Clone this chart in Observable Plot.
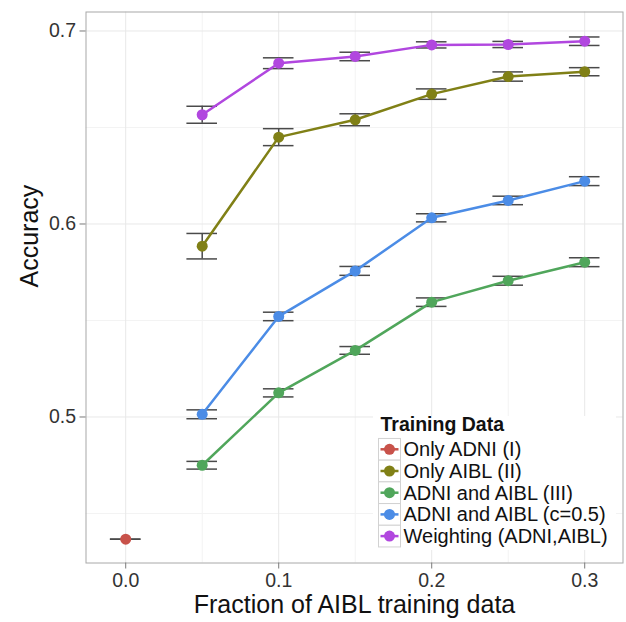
<!DOCTYPE html>
<html><head><meta charset="utf-8">
<script src="https://cdn.jsdelivr.net/npm/d3@7"></script>
<script src="https://cdn.jsdelivr.net/npm/@observablehq/plot@0.6"></script>
<style>
body{margin:0;background:#fff;font-family:"Liberation Sans",Arial,Helvetica,sans-serif;}
#wrap{position:relative;width:626px;height:622px;}
#wrap svg.legend{position:absolute;left:0;top:0;pointer-events:none;}
</style></head><body><div id="wrap"></div>
<script>
const seriesNames = ["Only ADNI (I)","Only AIBL (II)","ADNI and AIBL (III)","ADNI and AIBL (c=0.5)","Weighting (ADNI,AIBL)"];
const seriesColors = ["#c8524a","#808016","#50a65b","#4b8ce6","#b147df"];
const fractions = [0.05,0.1,0.15,0.2,0.25,0.3];
const onlyAdniX = [0.0];
const onlyAdniAcc = [0.4367];
const onlyAdniErr = [0];
const onlyAiblAcc = [0.5885,0.645,0.654,0.6673,0.6764,0.6789];
const onlyAiblErr = [0.0066,0.0044,0.0031,0.0027,0.0024,0.0021];
const combinedAcc = [0.475,0.5125,0.5345,0.5595,0.5706,0.5802];
const combinedErr = [0.002,0.0021,0.002,0.0022,0.0023,0.0023];
const c05Acc = [0.5014,0.5521,0.5757,0.6032,0.6122,0.6222];
const c05Err = [0.0023,0.0022,0.0023,0.0021,0.0022,0.0023];
const weightAcc = [0.6566,0.6833,0.6868,0.6928,0.6930,0.6947];
const weightErr = [0.0044,0.0028,0.0022,0.0016,0.0016,0.0022];
const xTicks = [0,0.1,0.2,0.3];
const xMinor = [0.05,0.15,0.25];
const yTicks = [0.5,0.6,0.7];
const yMinor = [0.45,0.55,0.65];
const xLabel = "Fraction of AIBL training data";
const yLabel = "Accuracy";
const legendTitle = "Training Data";
const capHalf = 0.01;

const rows = [];
function add(name, xs, accs, errs){
  xs.forEach((x,i)=>rows.push({series:name, x, acc:accs[i], lo:accs[i]-errs[i], hi:accs[i]+errs[i], xl:x-capHalf, xr:x+capHalf}));
}
add(seriesNames[0], onlyAdniX, onlyAdniAcc, onlyAdniErr);
add(seriesNames[1], fractions, onlyAiblAcc, onlyAiblErr);
add(seriesNames[2], fractions, combinedAcc, combinedErr);
add(seriesNames[3], fractions, c05Acc, c05Err);
add(seriesNames[4], fractions, weightAcc, weightErr);

const font = '"Liberation Sans",Arial,Helvetica,sans-serif';
const errColor = "#4a4a4a";
const plot = Plot.plot({
  width:626, height:622,
  marginLeft:85.5, marginRight:3.5, marginTop:11.5, marginBottom:59.5,
  x:{domain:[-0.02595,0.32503]},
  y:{domain:[0.42435,0.70984]},
  color:{domain:seriesNames, range:seriesColors},
  style:{fontFamily:font, background:"white", overflow:"visible"},
  marks:[
    Plot.gridX(xMinor,{stroke:"#f3f3f3", strokeOpacity:1}),
    Plot.gridY(yMinor,{stroke:"#f3f3f3", strokeOpacity:1}),
    Plot.gridX(xTicks,{stroke:"#e8e8e8", strokeOpacity:1}),
    Plot.gridY(yTicks,{stroke:"#e8e8e8", strokeOpacity:1}),
    Plot.ruleX(rows,{x:"x", y1:"lo", y2:"hi", stroke:errColor, strokeWidth:1.5}),
    Plot.ruleY(rows,{y:"lo", x1:"xl", x2:"xr", stroke:errColor, strokeWidth:1.5}),
    Plot.ruleY(rows,{y:"hi", x1:"xl", x2:"xr", stroke:errColor, strokeWidth:1.5}),
    Plot.line(rows,{x:"x", y:"acc", stroke:"series", z:"series", strokeWidth:2.5}),
    Plot.dot(rows,{x:"x", y:"acc", fill:"series", r:5.5}),
    Plot.frame({stroke:"#a8a8a8"}),
    Plot.axisX(xTicks,{tickFormat:d3.format(".1f"), tickSize:6, tickPadding:4, fontSize:19.5, label:null, stroke:"#7a7a7a", fill:"#333"}),
    Plot.axisY(yTicks,{tickFormat:d3.format(".1f"), tickSize:6, tickPadding:4, fontSize:19.5, label:null, stroke:"#7a7a7a", fill:"#333"}),
    Plot.text([xLabel],{frameAnchor:"bottom", dy:50, fontSize:25, fill:"#111"}),
    Plot.text([yLabel],{frameAnchor:"left", dx:-56, rotate:-90, fontSize:25, fill:"#111"})
  ]
});
const wrap = document.getElementById("wrap");
wrap.appendChild(plot);

// legend overlay
const lg = d3.select(wrap).append("svg").attr("class","legend").attr("width",626).attr("height",622)
  .style("font-family",font);
lg.append("rect").attr("x",373).attr("y",416).attr("width",243).attr("height",134).attr("fill","white");
lg.append("text").attr("x",380.5).attr("y",431).attr("font-weight","bold").attr("font-size",19.5).attr("fill","#111").text(legendTitle);
seriesNames.forEach((name,i)=>{
  const cy = 449.3 + i*21.7;
  const g = lg.append("g");
  g.append("rect").attr("x",378.5).attr("y",cy-10.85).attr("width",22).attr("height",21.7).attr("fill","white").attr("stroke","#d2d2d2");
  g.append("line").attr("x1",380.5).attr("x2",398.5).attr("y1",cy).attr("y2",cy).attr("stroke",seriesColors[i]).attr("stroke-width",2.5);
  g.append("circle").attr("cx",389.5).attr("cy",cy).attr("r",5.5).attr("fill",seriesColors[i]);
  g.append("text").attr("x",403.5).attr("y",cy).attr("dy","0.35em").attr("font-size",20).attr("fill","#111").text(name);
});
</script></body></html>
